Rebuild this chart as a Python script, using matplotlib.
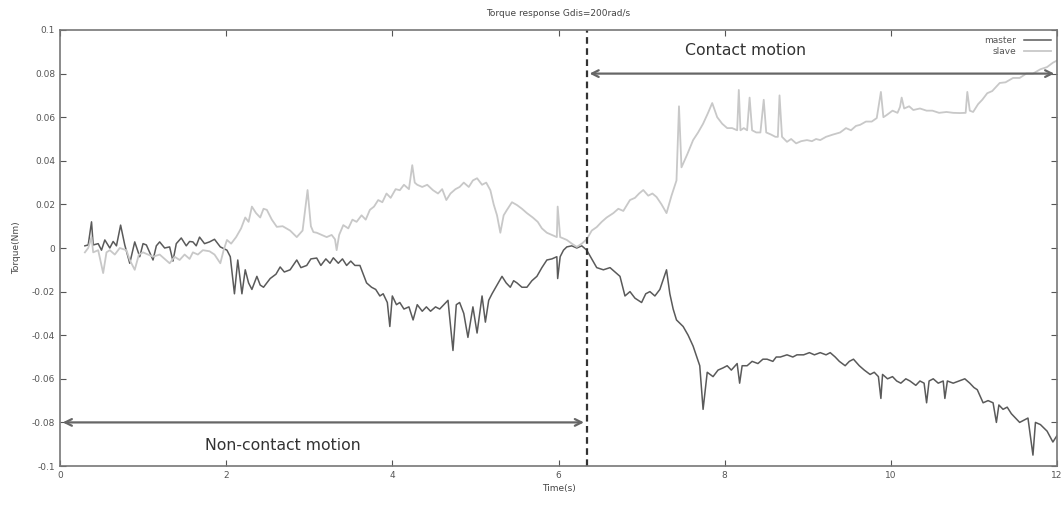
import matplotlib.pyplot as plt

# master torque (dark trace), (time, torque)
master_points = [
    (0.30, 0.001), (0.34, 0.0014), (0.38, 0.012), (0.40, 0.0014), (0.46, 0.002), (0.50, -0.001),
    (0.54, 0.0037), (0.60, 0.0), (0.64, 0.003), (0.68, 0.001), (0.73, 0.0105), (0.78, 0.0014),
    (0.84, -0.007), (0.90, 0.0028), (0.96, -0.004), (1.00, 0.002), (1.04, 0.0014), (1.08, -0.002),
    (1.12, -0.0055), (1.16, 0.001), (1.20, 0.0028), (1.26, 0.0), (1.32, 0.0005), (1.36, -0.006),
    (1.40, 0.002), (1.46, 0.0046), (1.52, 0.001), (1.56, 0.003), (1.60, 0.0028), (1.64, 0.001),
    (1.68, 0.005), (1.74, 0.002), (1.80, 0.0028), (1.86, 0.004), (1.93, 0.0005), (2.01, -0.001),
    (2.05, -0.004), (2.10, -0.021), (2.14, -0.0055), (2.19, -0.021), (2.23, -0.010), (2.27, -0.016),
    (2.31, -0.019), (2.37, -0.013), (2.41, -0.017), (2.45, -0.018), (2.53, -0.014), (2.60, -0.012),
    (2.65, -0.0087), (2.70, -0.011), (2.77, -0.010), (2.85, -0.0055), (2.90, -0.009), (2.97, -0.008),
    (3.02, -0.005), (3.09, -0.0046), (3.14, -0.008), (3.20, -0.005), (3.25, -0.007), (3.29, -0.0045),
    (3.35, -0.007), (3.40, -0.005), (3.45, -0.008), (3.50, -0.006), (3.55, -0.008), (3.61, -0.008),
    (3.66, -0.013), (3.69, -0.016), (3.75, -0.018), (3.80, -0.019), (3.85, -0.022), (3.89, -0.021),
    (3.94, -0.025), (3.97, -0.036), (4.00, -0.022), (4.05, -0.026), (4.09, -0.025), (4.14, -0.028),
    (4.20, -0.027), (4.25, -0.033), (4.30, -0.026), (4.36, -0.029), (4.41, -0.027), (4.46, -0.029),
    (4.52, -0.027), (4.57, -0.028), (4.62, -0.026), (4.67, -0.024), (4.73, -0.047), (4.77, -0.026),
    (4.81, -0.025), (4.86, -0.030), (4.91, -0.041), (4.97, -0.027), (5.02, -0.039), (5.08, -0.022),
    (5.12, -0.034), (5.16, -0.024), (5.20, -0.021), (5.26, -0.017), (5.32, -0.013), (5.37, -0.016),
    (5.42, -0.018), (5.46, -0.015), (5.50, -0.016), (5.56, -0.018), (5.62, -0.018), (5.68, -0.015),
    (5.74, -0.013), (5.80, -0.009), (5.86, -0.0055), (5.92, -0.005), (5.98, -0.004), (5.99, -0.014),
    (6.02, -0.004), (6.06, -0.001), (6.10, 0.0005), (6.16, 0.001), (6.22, 0.0), (6.28, 0.001),
    (6.34, -0.001), (6.40, -0.005), (6.46, -0.009), (6.54, -0.010), (6.62, -0.009), (6.68, -0.011),
    (6.74, -0.013), (6.80, -0.022), (6.86, -0.020), (6.92, -0.023), (7.00, -0.025), (7.05, -0.021),
    (7.10, -0.020), (7.16, -0.022), (7.22, -0.019), (7.30, -0.010), (7.34, -0.021), (7.38, -0.028),
    (7.42, -0.033), (7.50, -0.036), (7.56, -0.040), (7.62, -0.045), (7.70, -0.054), (7.74, -0.074),
    (7.79, -0.057), (7.86, -0.059), (7.92, -0.056), (7.98, -0.055), (8.03, -0.054), (8.08, -0.056),
    (8.15, -0.053), (8.18, -0.062), (8.21, -0.054), (8.27, -0.054), (8.33, -0.052), (8.40, -0.053),
    (8.46, -0.051), (8.51, -0.051), (8.58, -0.052), (8.62, -0.050), (8.67, -0.050), (8.75, -0.049),
    (8.82, -0.050), (8.87, -0.049), (8.95, -0.049), (9.02, -0.048), (9.08, -0.049), (9.15, -0.048),
    (9.22, -0.049), (9.27, -0.048), (9.33, -0.050), (9.38, -0.052), (9.45, -0.054), (9.50, -0.052),
    (9.55, -0.051), (9.62, -0.054), (9.68, -0.056), (9.75, -0.058), (9.80, -0.057), (9.85, -0.059),
    (9.88, -0.069), (9.90, -0.058), (9.96, -0.060), (10.02, -0.059), (10.07, -0.061), (10.12, -0.062),
    (10.18, -0.060), (10.23, -0.061), (10.30, -0.063), (10.35, -0.061), (10.40, -0.062), (10.43, -0.071),
    (10.46, -0.061), (10.51, -0.060), (10.57, -0.062), (10.63, -0.061), (10.65, -0.069), (10.68, -0.061),
    (10.75, -0.062), (10.82, -0.061), (10.89, -0.060), (10.95, -0.062), (11.00, -0.064), (11.04, -0.065),
    (11.11, -0.071), (11.17, -0.070), (11.23, -0.071), (11.27, -0.080), (11.30, -0.072), (11.35, -0.074),
    (11.40, -0.073), (11.45, -0.076), (11.50, -0.078), (11.55, -0.080), (11.60, -0.079), (11.65, -0.078),
    (11.71, -0.095), (11.74, -0.080), (11.80, -0.081), (11.88, -0.084), (11.95, -0.089), (12.00, -0.086),
]

# slave torque (light trace)
slave_points = [
    (0.30, -0.002), (0.34, 0.0), (0.38, 0.005), (0.40, -0.002), (0.46, -0.001), (0.52, -0.0115),
    (0.56, -0.002), (0.60, -0.001), (0.66, -0.003), (0.72, 0.0), (0.80, -0.001), (0.84, -0.0055),
    (0.90, -0.01), (0.95, -0.003), (1.00, -0.002), (1.06, -0.003), (1.12, -0.004), (1.20, -0.003),
    (1.26, -0.005), (1.32, -0.007), (1.38, -0.004), (1.44, -0.0055), (1.50, -0.003), (1.56, -0.005),
    (1.60, -0.002), (1.66, -0.003), (1.72, -0.001), (1.80, -0.0015), (1.86, -0.003), (1.93, -0.007),
    (1.97, -0.001), (2.01, 0.0037), (2.06, 0.002), (2.12, 0.005), (2.18, 0.009), (2.23, 0.014),
    (2.27, 0.012), (2.31, 0.019), (2.36, 0.016), (2.41, 0.014), (2.45, 0.018), (2.49, 0.0175),
    (2.55, 0.013), (2.61, 0.0097), (2.68, 0.010), (2.77, 0.008), (2.85, 0.005), (2.92, 0.008),
    (2.98, 0.0266), (3.02, 0.010), (3.05, 0.0073), (3.09, 0.007), (3.15, 0.006), (3.21, 0.005),
    (3.27, 0.006), (3.31, 0.004), (3.33, -0.001), (3.36, 0.006), (3.41, 0.0105), (3.47, 0.009),
    (3.52, 0.013), (3.57, 0.012), (3.63, 0.015), (3.68, 0.013), (3.73, 0.0175), (3.78, 0.019),
    (3.83, 0.022), (3.88, 0.021), (3.93, 0.025), (3.98, 0.023), (4.04, 0.027), (4.09, 0.0265),
    (4.14, 0.029), (4.20, 0.027), (4.24, 0.038), (4.27, 0.030), (4.30, 0.029), (4.36, 0.028),
    (4.42, 0.029), (4.49, 0.0265), (4.55, 0.025), (4.60, 0.027), (4.65, 0.022), (4.70, 0.025),
    (4.76, 0.027), (4.81, 0.028), (4.86, 0.030), (4.92, 0.028), (4.97, 0.031), (5.02, 0.032),
    (5.08, 0.029), (5.13, 0.030), (5.18, 0.0265), (5.22, 0.020), (5.26, 0.015), (5.30, 0.007),
    (5.34, 0.015), (5.38, 0.0175), (5.44, 0.021), (5.50, 0.0197), (5.56, 0.018), (5.62, 0.016),
    (5.69, 0.014), (5.75, 0.012), (5.80, 0.009), (5.86, 0.007), (5.92, 0.006), (5.98, 0.005),
    (5.99, 0.019), (6.02, 0.005), (6.10, 0.0037), (6.16, 0.002), (6.22, 0.0005), (6.28, 0.002),
    (6.34, 0.004), (6.40, 0.008), (6.46, 0.0096), (6.52, 0.012), (6.58, 0.014), (6.66, 0.016),
    (6.72, 0.018), (6.78, 0.017), (6.86, 0.022), (6.92, 0.023), (6.97, 0.025), (7.02, 0.0266),
    (7.08, 0.024), (7.13, 0.025), (7.18, 0.0234), (7.24, 0.020), (7.30, 0.016), (7.36, 0.024),
    (7.42, 0.031), (7.45, 0.065), (7.48, 0.037), (7.55, 0.043), (7.62, 0.0495), (7.68, 0.053),
    (7.74, 0.057), (7.80, 0.062), (7.85, 0.0665), (7.91, 0.060), (7.97, 0.057), (8.03, 0.055),
    (8.09, 0.055), (8.15, 0.054), (8.17, 0.0725), (8.19, 0.054), (8.23, 0.055), (8.27, 0.054),
    (8.30, 0.069), (8.33, 0.054), (8.38, 0.053), (8.43, 0.053), (8.47, 0.068), (8.50, 0.053),
    (8.56, 0.052), (8.61, 0.051), (8.64, 0.051), (8.66, 0.070), (8.69, 0.051), (8.75, 0.0487),
    (8.80, 0.050), (8.86, 0.048), (8.92, 0.049), (8.99, 0.0495), (9.05, 0.049), (9.10, 0.050),
    (9.15, 0.0495), (9.22, 0.051), (9.30, 0.052), (9.39, 0.053), (9.46, 0.055), (9.52, 0.054),
    (9.58, 0.056), (9.63, 0.0565), (9.70, 0.058), (9.77, 0.058), (9.83, 0.0596), (9.88, 0.0716),
    (9.91, 0.060), (9.95, 0.061), (10.02, 0.063), (10.08, 0.062), (10.11, 0.0647), (10.13, 0.069),
    (10.16, 0.064), (10.22, 0.065), (10.27, 0.0633), (10.35, 0.064), (10.43, 0.063), (10.50, 0.063),
    (10.58, 0.062), (10.67, 0.0624), (10.75, 0.062), (10.83, 0.0619), (10.90, 0.062), (10.92, 0.0716),
    (10.95, 0.063), (10.99, 0.0624), (11.05, 0.066), (11.10, 0.068), (11.16, 0.071), (11.22, 0.072),
    (11.31, 0.0757), (11.38, 0.076), (11.47, 0.078), (11.55, 0.078), (11.63, 0.080), (11.71, 0.080),
    (11.80, 0.082), (11.88, 0.083), (11.95, 0.085), (12.00, 0.086),
]

contact_start = 6.34
x_ticks = [0, 2, 4, 6, 8, 10, 12]
y_ticks = [-0.1, -0.08, -0.06, -0.04, -0.02, 0, 0.02, 0.04, 0.06, 0.08, 0.1]
y_labels = ['-0.1', '-0.08', '-0.06', '-0.04', '-0.02', '0', '0.02', '0.04', '0.06', '0.08', '0.1']

master_t, master_v = zip(*master_points)
slave_t, slave_v = zip(*slave_points)

fig = plt.figure(figsize=(10.63, 5.05), dpi=100)
ax = fig.add_axes([0.0564, 0.0772, 0.938, 0.8634])

ax.plot(master_t, master_v, color='#5a5a5a', lw=1.1, label='master')
ax.plot(slave_t, slave_v, color='#c8c8c8', lw=1.3, label='slave')

ax.axvline(contact_start, color='#333333', lw=1.6, ls=(0, (3, 2)))

arrow_style = dict(arrowstyle='<->', color='#666666', lw=1.6, mutation_scale=12)
ax.annotate('', xy=(0, -0.08), xytext=(contact_start, -0.08), arrowprops=arrow_style)
ax.annotate('', xy=(contact_start, 0.08), xytext=(12, 0.08), arrowprops=arrow_style)
ax.text(2.68, -0.0905, 'Non-contact motion', fontsize=11.3, color='#333333', ha='center', va='center')
ax.text(8.25, 0.0905, 'Contact motion', fontsize=11.3, color='#333333', ha='center', va='center')

ax.set_xlim(0, 12)
ax.set_ylim(-0.1, 0.1)
ax.set_xticks(x_ticks)
ax.set_yticks(y_ticks)
ax.set_yticklabels(y_labels)
ax.tick_params(direction='in', top=True, right=True, labelsize=6.5, colors='#555555', length=4)
for s in ax.spines.values():
    s.set_color('#777777')
    s.set_linewidth(1.2)

ax.set_title('Torque response Gdis=200rad/s', fontsize=6.5, color='#444444', pad=10)
ax.set_xlabel('Time(s)', fontsize=6.5, color='#444444', labelpad=3)
ax.set_ylabel('Torque(Nm)', fontsize=6.5, color='#444444', labelpad=8)

ax.legend(loc='upper right', frameon=False, fontsize=6.5, markerfirst=False,
          handlelength=3, labelspacing=0.2, borderaxespad=0.3, labelcolor='#555555')

fig.savefig('out.png', dpi=100)
